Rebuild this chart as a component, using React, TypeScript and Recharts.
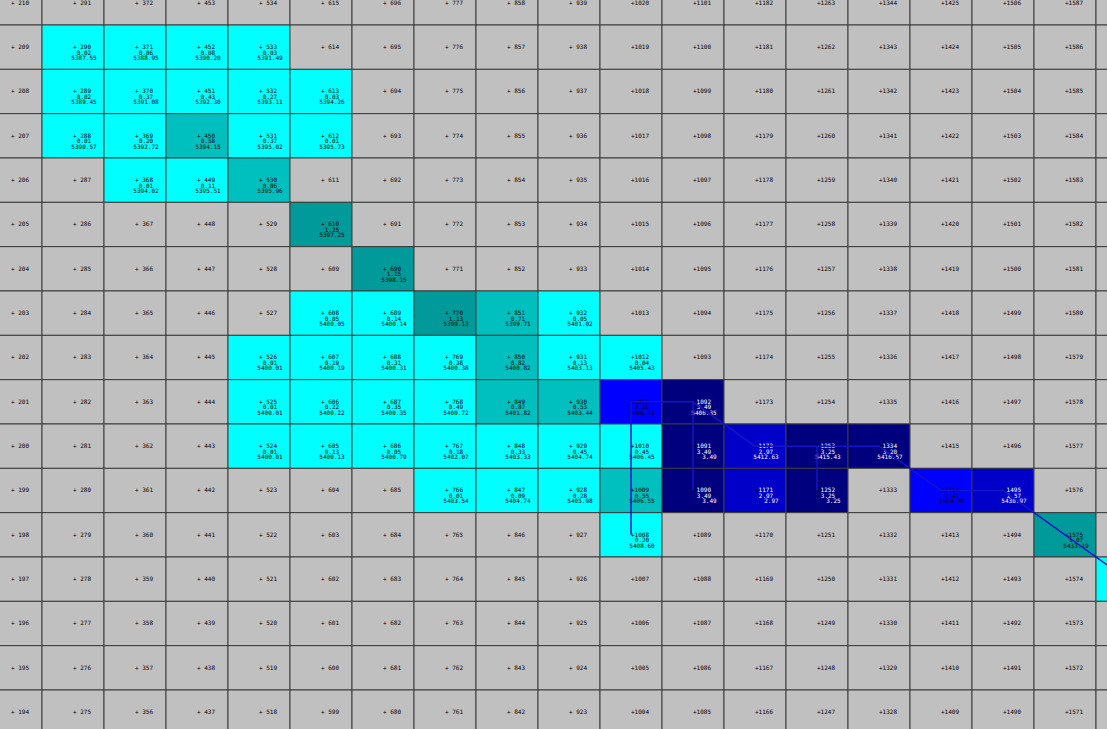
import { ScatterChart, Scatter, XAxis, YAxis, ReferenceArea } from "recharts";

// grid rows top to bottom, columns left to right (column 0 carries the row number)
const rows = [210, 209, 208, 207, 206, 205, 204, 203, 202, 201, 200, 199, 198, 197, 196, 195, 194];
const cols = [0, 1, 2, 3, 4, 5, 6, 7, 8, 9, 10, 11, 12, 13, 14, 15, 16, 17, 18];
const colStep = 81;

// wet cells: id, depth, water level
const wetIds = [
  290, 371, 452, 533,
  289, 370, 451, 532, 613,
  288, 369, 450, 531, 612,
  368, 449, 530,
  610,
  690,
  608, 689, 770, 851, 932,
  526, 607, 688, 769, 850, 931, 1012,
  525, 606, 687, 768, 849, 930, 1011, 1092,
  524, 605, 686, 767, 848, 929, 1010, 1091, 1172, 1253, 1334,
  766, 847, 928, 1009, 1090, 1171, 1252, 1414, 1495,
  1008, 1575,
  1655,
];
const wetDepths = [
  0.02, 0.06, 0.08, 0.03,
  0.02, 0.37, 0.43, 0.27, 0.03,
  0.01, 0.2, 0.58, 0.37, 0.01,
  0.01, 0.11, 0.86,
  1.25,
  1.15,
  0.05, 0.14, 1.13, 0.71, 0.05,
  0.01, 0.19, 0.31, 0.38, 0.82, 0.13, 0.04,
  0.01, 0.22, 0.35, 0.49, 0.87, 0.53, 2.35, 3.49,
  0.01, 0.13, 0.05, 0.18, 0.33, 0.45, 0.45, 3.49, 2.97, 3.25, 3.2,
  0.01, 0.09, 0.28, 0.55, 3.49, 2.97, 3.25, 2.47, 2.57,
  0.2, 1.07,
  0.3,
];
const wetLevels = [
  5387.55, 5388.95, 5390.2, 5391.49,
  5389.45, 5391.08, 5392.3, 5393.11, 5394.26,
  5390.57, 5392.72, 5394.15, 5395.02, 5395.73,
  5394.02, 5395.51, 5395.96,
  5397.25,
  5398.15,
  5400.05, 5400.14, 5399.13, 5399.71, 5401.02,
  5400.01, 5400.19, 5400.31, 5400.38, 5400.82, 5403.13, 5405.43,
  5400.01, 5400.22, 5400.35, 5400.72, 5401.82, 5403.44, 5406.71, 5406.35,
  5400.01, 5400.13, 5400.79, 5402.07, 5403.33, 5404.74, 5406.45, 3.49, 5412.63, 5415.43, 5416.57,
  5403.54, 5404.74, 5405.98, 5406.55, 3.49, 2.97, 3.25, 5429.9, 5430.97,
  5408.6, 5433.19,
  5434.3,
];

// flow path through cell centres (column, row)
const mainPathCols = [10, 11, 12, 13, 14, 15, 16, 17, 18];
const mainPathRows = [201, 201, 200, 200, 200, 199, 199, 198, 197];
const branchCols = [[10, 10], [11, 11], [13, 13]];
const branchRows = [[201, 198], [201, 199], [200, 199]];

const GRAY = "#c0c0c0";
const GRID = "#3c3c3c";
const PATH = "#1414c8";
const FONT = "'DejaVu Sans Mono', monospace";

function fillFor(d?: number) {
  if (d === undefined) return GRAY;
  if (d < 0.5) return "#00ffff";
  if (d < 1) return "#00bfbf";
  if (d < 2) return "#009a9a";
  if (d < 2.5) return "#0000ff";
  if (d < 3) return "#0000c8";
  return "#00007f";
}

const cells = cols.flatMap((c) =>
  rows.map((r) => {
    const id = r + colStep * c;
    const i = wetIds.indexOf(id);
    return {
      x: c,
      y: r,
      id,
      depth: i >= 0 ? wetDepths[i] : undefined,
      level: i >= 0 ? wetLevels[i] : undefined,
    };
  })
);

const mainPath = mainPathCols.map((c, i) => ({ x: c, y: mainPathRows[i] }));
const branches = branchCols.map((cs, k) => cs.map((c, i) => ({ x: c, y: branchRows[k][i] })));

function CellLabel(props: any) {
  const { cx, cy, payload } = props;
  if (cx == null || cy == null) return <g />;
  const d = payload.depth;
  const light = d !== undefined && d >= 2.5;
  const color = light ? "#ffffff" : "#000000";
  const idText = String(payload.id).padStart(4, " ");
  return (
    <g fontFamily={FONT} fontSize={6} textAnchor="middle">
      <text x={cx + 9} y={cy + 1.8} fill={color} xmlSpace="preserve" style={{ whiteSpace: "pre" }}>
        <tspan fill="#000000">+</tspan>
        {idText}
      </text>
      {d !== undefined && (
        <text x={cx + 11} y={cy + 7.4} fill={color}>
          {d.toFixed(2)}
        </text>
      )}
      {payload.level !== undefined && (
        <text x={cx + 11} y={cy + 13} fill={color} xmlSpace="preserve" style={{ whiteSpace: "pre" }}>
          {payload.level.toFixed(2).padStart(7, " ")}
        </text>
      )}
    </g>
  );
}

const NoDot = () => <g />;

export default function App() {
  return (
    <div style={{ position: "fixed", left: 0, top: 0, width: 1107, height: 729, background: GRAY }}>
      <ScatterChart width={1107} height={729} margin={{ top: 0, right: 0, bottom: 0, left: 0 }}>
        <XAxis type="number" dataKey="x" hide domain={[-42 / 62 + 0.5, 0.5 + 1065 / 62]} allowDataOverflow />
        <YAxis type="number" dataKey="y" hide domain={[209.5 - 704 / 44.333, 209.5 + 25 / 44.333]} allowDataOverflow />
        {cells.map((c) => (
          <ReferenceArea
            key={`cell-${c.id}`}
            x1={c.x - 0.5}
            x2={c.x + 0.5}
            y1={c.y - 0.5}
            y2={c.y + 0.5}
            fill={fillFor(c.depth)}
            fillOpacity={1}
            stroke={GRID}
            strokeWidth={1}
            ifOverflow="hidden"
          />
        ))}
        <Scatter data={cells} shape={<CellLabel />} isAnimationActive={false} legendType="none" />
        {branches.map((b, k) => (
          <Scatter
            key={`branch-${k}`}
            data={b}
            line={{ stroke: PATH, strokeWidth: 1.5 }}
            shape={<NoDot />}
            isAnimationActive={false}
            legendType="none"
          />
        ))}
        <Scatter
          data={mainPath}
          line={{ stroke: PATH, strokeWidth: 1.5 }}
          shape={<NoDot />}
          isAnimationActive={false}
          legendType="none"
        />
      </ScatterChart>
    </div>
  );
}
